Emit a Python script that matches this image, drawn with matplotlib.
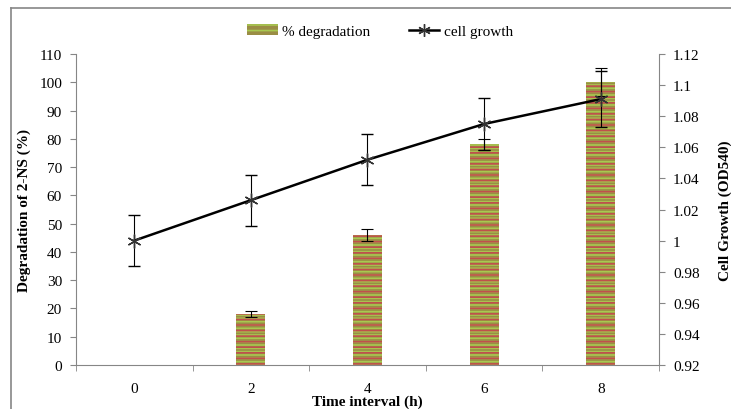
import numpy as np
import matplotlib.pyplot as plt
from matplotlib.lines import Line2D
from matplotlib.patches import Rectangle

plt.rcParams['font.family'] = ['Liberation Serif', 'DejaVu Serif']
plt.rcParams['hatch.linewidth'] = 1.2

time_labels = ['0', '2', '4', '6', '8']
degradation = [0, 18, 46, 78, 100]
degradation_err = [0, 1, 2, 2, 5]
cell_growth = [1.0, 1.026, 1.052, 1.075, 1.091]
cell_growth_err = [0.0165, 0.0165, 0.0165, 0.0165, 0.018]

fig = plt.figure(figsize=(7.31, 4.10), dpi=100)
ax = fig.add_axes([76 / 731, 1 - 366 / 410, (659 - 76) / 731, (366 - 55) / 410])
ax2 = ax.twinx()

x = np.arange(len(time_labels))
grey = '#868686'
fs = 11

# bars: olive base with green + red stripes
bar_vals = [v if v > 0 else np.nan for v in degradation]
ax.bar(x, bar_vals, width=0.25, color='#9a8d45', edgecolor='#a8c850',
       hatch='-----', linewidth=0, zorder=2)
ax.bar(x, bar_vals, width=0.25, color='none', edgecolor='#c0504d',
       hatch='---', linewidth=0, zorder=2)
err_idx = [i for i in range(len(x)) if degradation[i] > 0]
ax.errorbar(x[err_idx], [degradation[i] for i in err_idx],
            yerr=[degradation_err[i] for i in err_idx], fmt='none',
            ecolor='black', elinewidth=0.8, capsize=4, capthick=0.8, zorder=3)

ax.set_ylim(0, 110)
ax.set_yticks(np.arange(0, 111, 10))
ax.set_xlim(-0.5, len(x) - 0.5)
ax.set_xticks(x)
ax.set_xticklabels(time_labels)
ax.set_xticks(np.arange(-0.5, len(x), 1), minor=True)
ax.tick_params(axis='x', which='major', length=0, pad=12, labelsize=fs)
ax.tick_params(axis='x', which='minor', length=4, color=grey)
ax.tick_params(axis='y', length=4, color=grey, labelsize=fs, pad=6)

ax2.errorbar(x, cell_growth, yerr=cell_growth_err, color='black', lw=1.8,
             marker=(6, 2, 0), markersize=10, markeredgewidth=1,
             markeredgecolor='#333333', ecolor='black', elinewidth=0.8,
             capsize=4, capthick=0.8, zorder=4)
ax2.set_ylim(0.92, 1.12)
ax2.set_yticks(np.arange(0.92, 1.121, 0.02))
ax2.set_yticklabels(['0.92', '0.94', '0.96', '0.98', '1', '1.02', '1.04',
                     '1.06', '1.08', '1.1', '1.12'])
ax2.tick_params(axis='y', length=4, color=grey, labelsize=fs, pad=6)

for a in (ax, ax2):
    a.spines['top'].set_visible(False)
    for s in a.spines.values():
        s.set_color(grey)
ax.spines['right'].set_visible(False)
ax2.spines['left'].set_visible(False)
ax2.spines['bottom'].set_visible(False)

ax.set_ylabel('Degradation of 2-NS (%)', fontsize=fs, fontweight='bold', labelpad=6)
ax2.set_ylabel('Cell Growth (OD540)', fontsize=fs, fontweight='bold', labelpad=14)
ax.set_xlabel('Time interval (h)', fontsize=fs, fontweight='bold', labelpad=0)

bar_handle = Rectangle((0, 0), 1, 1, facecolor='#9a8d45', edgecolor='#a8c850',
                       hatch='---', linewidth=0)
line_handle = Line2D([], [], color='black', lw=1.8, marker=(6, 2, 0),
                     markersize=9, markeredgewidth=1, markeredgecolor='#333333')
fig.legend([bar_handle, line_handle], ['% degradation', 'cell growth'],
           loc='center', bbox_to_anchor=(0.52, 1 - 32 / 410), ncol=2,
           frameon=False, fontsize=fs, handlelength=2.0, handletextpad=0.3,
           columnspacing=2.5)

# outer chart border (left and top visible)
fig.add_artist(Line2D([11 / 731, 11 / 731], [0, 1 - 9 / 410], color=grey, lw=1.2))
fig.add_artist(Line2D([11 / 731, 1], [1 - 9 / 410, 1 - 9 / 410], color=grey, lw=1.2))

fig.savefig('out.png', dpi=100)
